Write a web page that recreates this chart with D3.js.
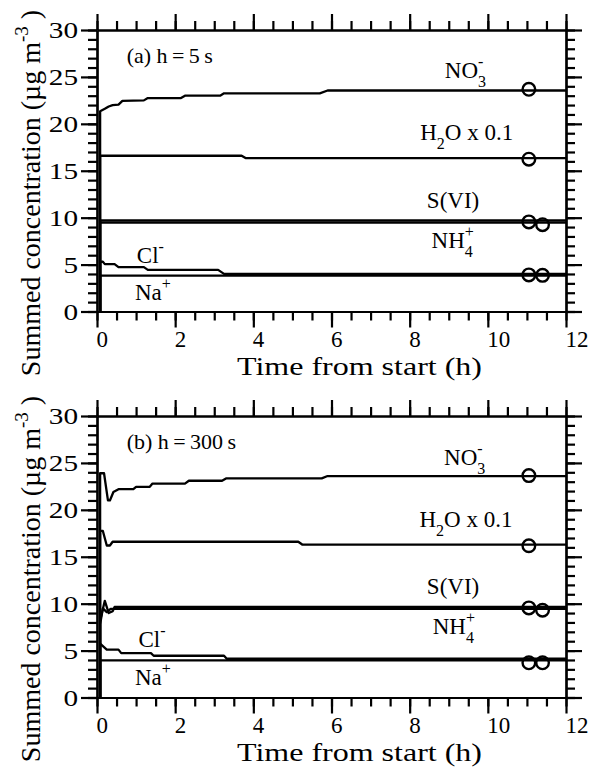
<!DOCTYPE html>
<html><head><meta charset="utf-8">
<script src="https://cdn.jsdelivr.net/npm/d3@7"></script>
<style>
body{margin:0;background:#fff;}
</style></head><body>
<svg id="fig" width="590" height="770"></svg>
<script>
// Axis ticks
const xTicks = [0, 2, 4, 6, 8, 10, 12];
const xMinor = d3.range(0, 12.01, 0.5);
const yTicks = [0, 5, 10, 15, 20, 25, 30];
const yMinor = d3.range(0, 30.01, 1);

// (a) h = 5 s : summed concentrations [time (h), µg m-3]
const no3A = [[0.08,0],[0.08,21.35],[0.2,21.6],[0.3,21.85],[0.4,22.0],[0.55,22.05],[0.65,22.45],[1.2,22.5],[1.3,22.75],[2.15,22.75],[2.25,23.0],[3.15,23.0],[3.25,23.25],[5.7,23.25],[5.9,23.55],[12,23.55]];
const h2oA = [[0.08,0],[0.08,16.6],[3.7,16.6],[3.8,16.35],[12,16.35]];
const sviA = [[0.08,0],[0.08,9.7],[12,9.7]];
const nh4A = [[0.08,0],[0.08,9.48],[12,9.48]];
const clA  = [[0.08,0],[0.08,5.32],[0.15,5.3],[0.2,5.05],[0.45,5.05],[0.55,4.73],[1.2,4.73],[1.3,4.44],[3.1,4.44],[3.25,4.01],[12,4.01]];
const naA  = [[0.08,0],[0.08,3.83],[12,3.83]];
const obsA = [[11.05,23.68],[11.05,16.23],[11.05,9.55],[11.4,9.25],[11.05,3.9],[11.4,3.85]];

// (b) h = 300 s
const no3B = [[0.08,0],[0.08,23.9],[0.18,23.9],[0.28,21.0],[0.33,21.0],[0.42,21.9],[0.55,22.2],[0.93,22.2],[1.0,22.45],[1.35,22.45],[1.42,22.8],[2.25,22.8],[2.35,23.1],[3.2,23.1],[3.3,23.35],[5.75,23.35],[5.9,23.6],[12,23.6]];
const h2oB = [[0.08,0],[0.08,17.75],[0.15,17.75],[0.25,16.2],[0.33,16.2],[0.4,16.6],[5.15,16.6],[5.25,16.3],[12,16.3]];
const sviB = [[0.08,0],[0.08,8.2],[0.2,10.3],[0.3,9.0],[0.4,9.2],[0.45,9.65],[12,9.65]];
const nh4B = [[0.08,0],[0.08,7.8],[0.15,9.5],[0.25,9.1],[0.35,9.45],[12,9.45]];
const clB  = [[0.08,0],[0.08,5.75],[0.25,5.1],[0.55,5.1],[0.62,4.73],[1.38,4.73],[1.45,4.45],[3.25,4.45],[3.32,4.13],[12,4.13]];
const naB  = [[0.08,0],[0.08,3.95],[12,3.95]];
const obsB = [[11.05,23.65],[11.05,16.17],[11.05,9.55],[11.4,9.3],[11.05,3.7],[11.4,3.7]];

// Species labels: text pieces (base / sub / sup)
const speciesNames = [
  [{t:"NO"},{t:"3",sub:1},{t:"-",sup:1,stack:1}],
  [{t:"H"},{t:"2",sub:1},{t:"O x 0.1"}],
  [{t:"S(VI)"}],
  [{t:"NH"},{t:"4",sub:1},{t:"+",sup:1,stack:1}],
  [{t:"Cl"},{t:"-",sup:1}],
  [{t:"Na"},{t:"+",sup:1}]
];
const labelAtA = [[8.9,24.86],[8.27,18.29],[8.44,11.04],[8.56,6.75],[1.02,5.15],[0.97,1.25]];
const labelAtB = [[8.88,24.77],[8.25,18.18],[8.44,11.07],[8.59,6.8],[1.06,5.37],[0.97,1.28]];

const panels = [
  {tag:"(a) h\u2009=\u20095\u2009s", top:30, series:[no3A,h2oA,sviA,nh4A,clA,naA], obs:obsA, labels:labelAtA},
  {tag:"(b) h\u2009=\u2009300\u2009s", top:416, series:[no3B,h2oB,sviB,nh4B,clB,naB], obs:obsB, labels:labelAtB}
];

const FONT = "'Liberation Serif', 'Times New Roman', Times, 'DejaVu Serif', serif";
const svg = d3.select("#fig");
const left = 97, right = 566, plotH = 281.5;

panels.forEach(p => {
  const x = d3.scaleLinear().domain([0,12]).range([left,right]);
  const y = d3.scaleLinear().domain([0,30]).range([p.top+plotH, p.top]);
  const g = svg.append("g");

  const styleAxis = sel => {
    sel.attr("font-family", null);
    sel.selectAll("path").attr("stroke","#000").attr("stroke-width",2.2);
    sel.selectAll("line").attr("stroke","#000").attr("stroke-width",2.2);
    sel.selectAll("text").style("font-family", FONT).attr("fill","#000");
  };

  // minor ticks on all four sides
  [[d3.axisBottom(x),p.top+plotH],[d3.axisTop(x),p.top]].forEach(([ax,dy]) => {
    g.append("g").attr("transform",`translate(0,${dy})`)
      .call(ax.tickValues(xMinor).tickSize(9).tickSizeOuter(0).tickFormat(""))
      .call(styleAxis);
  });
  [[d3.axisLeft(y),left],[d3.axisRight(y),right]].forEach(([ax,dx]) => {
    g.append("g").attr("transform",`translate(${dx},0)`)
      .call(ax.tickValues(yMinor).tickSize(9).tickSizeOuter(0).tickFormat(""))
      .call(styleAxis);
  });
  // major ticks
  const xb = g.append("g").attr("transform",`translate(0,${p.top+plotH})`)
    .call(d3.axisBottom(x).tickValues(xTicks).tickSize(16).tickSizeOuter(0).tickPadding(3).tickFormat(d3.format("d")))
    .call(styleAxis);
  xb.selectAll("text").attr("text-anchor","start").attr("dx",-1).attr("font-size",23);
  g.append("g").attr("transform",`translate(0,${p.top})`)
    .call(d3.axisTop(x).tickValues(xTicks).tickSize(16).tickSizeOuter(0).tickFormat(""))
    .call(styleAxis);
  const yl = g.append("g").attr("transform",`translate(${left},0)`)
    .call(d3.axisLeft(y).tickValues(yTicks).tickSize(16).tickSizeOuter(0).tickPadding(3).tickFormat(d3.format("d")))
    .call(styleAxis);
  yl.selectAll("text").attr("font-size",24).each(function(){
    const w = this.getComputedTextLength();
    d3.select(this).attr("textLength", w*1.22).attr("lengthAdjust","spacingAndGlyphs");
  });
  g.append("g").attr("transform",`translate(${right},0)`)
    .call(d3.axisRight(y).tickValues(yTicks).tickSize(16).tickSizeOuter(0).tickFormat(""))
    .call(styleAxis);

  // concentration traces
  const line = d3.line().x(d => x(d[0])).y(d => y(d[1]));
  g.selectAll("path.series").data(p.series).join("path")
    .attr("class","series").attr("d",line)
    .attr("fill","none").attr("stroke","#000").attr("stroke-width",2.3)
    .attr("stroke-linejoin","round");

  // end-point markers
  g.selectAll("circle.obs").data(p.obs).join("circle")
    .attr("class","obs").attr("cx",d => x(d[0])).attr("cy",d => y(d[1]))
    .attr("r",6.3).attr("fill","none").attr("stroke","#000").attr("stroke-width",2.4);

  // panel tag
  g.append("text").style("font-family",FONT).attr("x",x(0.76)).attr("y",p.top+33)
    .attr("font-size",22).text(p.tag);

  // species labels
  speciesNames.forEach((parts,i) => {
    const [lx,ly] = p.labels[i];
    const t = g.append("text").style("font-family",FONT)
      .attr("x",x(lx)).attr("y",y(ly)).attr("font-size",23);
    let shift = 0, lastLen = 0;
    parts.forEach(pt => {
      const ts = t.append("tspan").text(pt.t);
      let target = 0;
      if (pt.sub) { target = 9; ts.attr("font-size",16); }
      else if (pt.sup) { target = -11; ts.attr("font-size",16); }
      ts.attr("dy", target - shift);
      if (pt.stack) ts.attr("dx", -lastLen);
      shift = target;
      lastLen = ts.node().getComputedTextLength();
    });
  });

  // axis titles
  g.append("text").style("font-family",FONT)
    .attr("x",237).attr("y",p.top+plotH+63)
    .attr("font-size",26).attr("textLength",245).attr("lengthAdjust","spacingAndGlyphs")
    .text("Time from start (h)");
  const yt = g.append("text").style("font-family",FONT)
    .attr("transform",`translate(40,${p.top+163}) rotate(-90)`)
    .attr("text-anchor","middle").attr("font-size",28);
  yt.append("tspan").text("Summed concentration (\u00b5g m");
  yt.append("tspan").attr("font-size",19).attr("dy",-12).text("-3");
  yt.append("tspan").attr("dy",12).text(" )");
});
</script>
</body></html>
